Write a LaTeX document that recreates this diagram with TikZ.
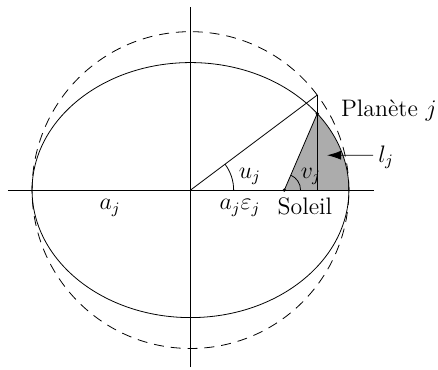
\documentclass[tikz,border=0pt,12pt]{standalone}
\usepackage{amsmath,amssymb}
\usetikzlibrary{arrows.meta,positioning,calc}

\begin{document}
\begin{tikzpicture}[scale=0.7]
    \useasboundingbox (-4.81,-4.52) rectangle (6.25,4.80);

    % Points of the orbit
    \coordinate (O) at (0,0);
    \coordinate (S) at (2.37,0);
    \coordinate (P) at (3.2,1.93);
    \coordinate (Q) at (3.2,2.4);
    \coordinate (H) at (3.2,0);

    % Swept area
    \fill[gray!65] (S) -- (P) arc[start angle=36.87, end angle=0, x radius=4, y radius=3.22] -- cycle;

    % Axes
    \draw (-4.61,0) -- (4.63,0);
    \draw (0,-4.47) -- (0,4.62);

    % Orbit and auxiliary circle
    \draw (O) ellipse[x radius=4, y radius=3.22];
    \draw[dash pattern=on 5pt off 3.5pt] (O) circle[radius=4];

    % Construction lines
    \draw (O) -- (Q);
    \draw (H) -- (Q);
    \draw (S) -- (P);

    % Angles
    \draw (1.09,0) arc[start angle=0, end angle=36.87, radius=1.09];
    \draw ($(S)+(0.41,0)$) arc[start angle=0, end angle=66.7, radius=0.41];

    \fill (S) circle (1.3pt);
    \fill (P) circle (1.3pt);

    % Arrow to the area
    \coordinate (lj) at (4.61,0.88);
    \draw[-{Latex[length=7pt,width=4.5pt]}] (lj) -- (3.45,0.88);

    % Labels
    \node (planete) at (5.01,2.02) {Plan\`ete $j$};
    \node (ljlab) at (4.94,0.83) {$l_j$};
    \node (ujlab) at (1.50,0.35) {$u_j$};
    \node (vjlab) at (3.04,0.35) {$v_j$};
    \node (ajlab) at (-2.03,-0.45) {$a_j$};
    \node (aeplab) at (1.25,-0.45) {$a_j\varepsilon_j$};
    \node (soleil) at (2.89,-0.42) {Soleil};
\end{tikzpicture}
\end{document}
